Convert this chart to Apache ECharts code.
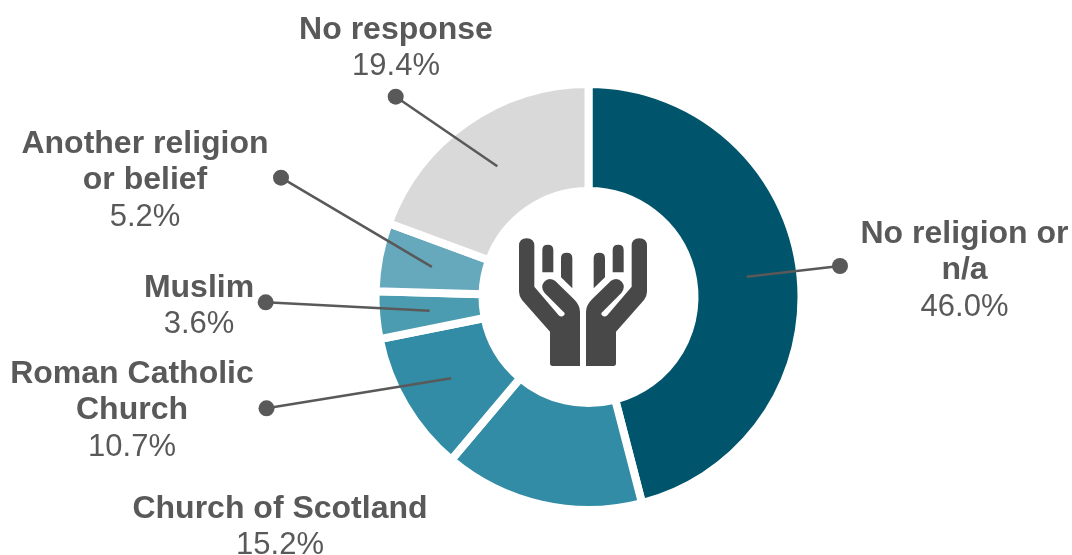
<!DOCTYPE html>
<html>
<head>
<meta charset="utf-8">
<style>html,body{margin:0;padding:0;background:#fff}#chart{width:1072px;height:555px}</style>
<script src="https://cdn.jsdelivr.net/npm/echarts@6/dist/echarts.min.js"></script>
</head>
<body>
<div id="chart"></div>
<script>
// Survey responses by religion, in percent
const categories = ['No religion or\nn/a', 'Church of Scotland', 'Roman Catholic\nChurch', 'Muslim', 'Another religion\nor belief', 'No response'];
const shares = [46.0, 15.2, 10.7, 3.6, 5.2, 19.4];
const sliceColors = ['#00546b', '#338ca6', '#338ca6', '#4b9cb0', '#67a9bc', '#d9d9d9'];

// Where each text block sits and where its leader ends (null: no leader)
const labelCentres = [[964.5, 270.5], [280, 527], [132, 410.5], [199, 306.5], [145, 180.5], [396, 48]];
const leaderDots = [[840, 266], null, [266.5, 408.3], [265.7, 302.3], [281, 177.7], [395.7, 96.7]];

const centre = [588.5, 297];
const radii = [106, 213];
const ringMiddle = 159.5;
const ink = '#595959';
const total = shares.reduce((a, b) => a + b, 0);

// Praying-hands icon: one hand outline with two fingers; the other hand is its mirror image
const handPath = 'M57 78 Q57 55 80 55 Q103 55 103 78 L103 200 L176 286 Q184 293 192 286 Q197 280 190 275 L134 219 Q120 202 132 186 Q146 170 165 182 L222 238 Q240 256 240 275 L240 438 L158 438 Q150 438 150 430 L150 335 L66 240 Q57 228 57 215 Z ' +
  'M127 90 Q127 74 143 74 Q160 74 160 90 L160 157 L127 157 Z ' +
  'M183 114 Q183 98 200 98 Q217 98 217 114 L217 205 L183 172 Z';
const handSize = [61, 127.7];
const handLeftEdge = 519;
const handRightEdge = 647;
const handTop = 238.3;

function labelText(name, share) {
  const head = name.split('\n').map(l => '{n|' + l + '}').join('\n');
  return head + '\n{v|' + share.toFixed(1) + '%}';
}

// Leader runs from the slice's mid-angle at mid-ring out to its round dot
function slicePoint(index) {
  const before = shares.slice(0, index).reduce((a, b) => a + b, 0);
  const a = (before + shares[index] / 2) / total * 2 * Math.PI;
  return [centre[0] + ringMiddle * Math.sin(a), centre[1] - ringMiddle * Math.cos(a)];
}

function handElement(x, flip) {
  return {
    type: 'path',
    x: x, y: handTop, scaleX: flip,
    shape: { pathData: handPath, x: 0, y: 0, width: handSize[0], height: handSize[1], layout: 'cover' },
    style: { fill: '#484848' }
  };
}

const chart = echarts.init(document.getElementById('chart'), null, { renderer: 'canvas' });
chart.setOption({
  animation: false,
  backgroundColor: '#ffffff',
  textStyle: { fontFamily: '"Liberation Sans", Arial, sans-serif' },
  series: [
    {
      type: 'pie',
      center: centre,
      radius: radii,
      startAngle: 90,
      clockwise: true,
      avoidLabelOverlap: false,
      silent: true,
      itemStyle: { borderColor: '#ffffff', borderWidth: 8 },
      data: categories.map((name, i) => ({
        name, value: shares[i], itemStyle: { color: sliceColors[i] }
      })),
      label: {
        show: true,
        position: 'outside',
        formatter: p => labelText(p.name, p.value),
        rich: {
          n: { fontFamily: '"Liberation Sans", Arial, sans-serif', fontSize: 32, fontWeight: 'bold', color: ink, lineHeight: 36.5, align: 'center' },
          v: { fontFamily: '"Liberation Sans", Arial, sans-serif', fontSize: 31, color: ink, lineHeight: 36.5, align: 'center' }
        }
      },
      labelLine: { show: false },
      labelLayout: p => ({
        x: labelCentres[p.dataIndex][0],
        y: labelCentres[p.dataIndex][1],
        align: 'center',
        verticalAlign: 'middle'
      })
    },
    {
      type: 'custom',
      coordinateSystem: 'none',
      z: 5,
      silent: true,
      data: shares.map((v, i) => [i, v]),
      renderItem: (params, api) => {
        const i = api.value(0);
        const dot = leaderDots[i];
        if (!dot) return null;
        const end = slicePoint(i);
        return {
          type: 'group',
          children: [
            { type: 'line', shape: { x1: dot[0], y1: dot[1], x2: end[0], y2: end[1] },
              style: { stroke: ink, lineWidth: 2.5 } },
            { type: 'circle', shape: { cx: dot[0], cy: dot[1], r: 8 }, style: { fill: ink } }
          ]
        };
      }
    },
    {
      type: 'custom',
      coordinateSystem: 'none',
      z: 6,
      silent: true,
      data: [[handLeftEdge, 1], [handRightEdge, -1]],
      renderItem: (params, api) => handElement(api.value(0), api.value(1))
    }
  ]
});
</script>
</body>
</html>
